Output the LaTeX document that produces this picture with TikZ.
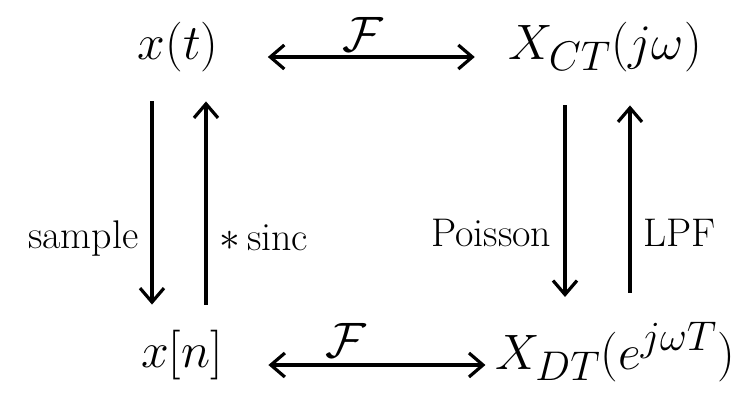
\documentclass[tikz,border=0pt]{standalone}
\usepackage{amsmath,amssymb}
\usetikzlibrary{arrows.meta,positioning}

\begin{document}
\begin{tikzpicture}[x=0.5pt,y=-0.5pt,
  line width=1.6pt,
  >={Straight Barb[length=7pt,width=12pt]},
  sig/.style={inner sep=2pt,font=\fontsize{28}{32}\selectfont},
  lbl/.style={inner sep=6pt,font=\fontsize{20}{24}\selectfont},
  op/.style={inner sep=1pt,font=\fontsize{26}{30}\selectfont}]
  \useasboundingbox (0,0) rectangle (748,396);
  % signals and spectra
  \node[sig] (xt)  at (178,47)  {$x(t)$};
  \node[sig] (Xct) at (605,47)  {$X_{CT}(j\omega)$};
  \node[sig] (xn)  at (182,355) {$x[n]$};
  \node[sig] (Xdt) at (615,352) {$X_{DT}(e^{j\omega T})$};

  % fourier pairs
  \draw[<->,shorten <=22pt,shorten >=14pt] ([yshift=-5pt]xt.east) -- node[op,above=1pt]{$\mathcal{F}$} ([yshift=-5pt]xt.east -| Xct.west);
  \draw[<->,shorten <=20pt,shorten >=2pt] ([yshift=-5pt]xn.east) -- node[op,above=2pt,pos=0.45]{$\mathcal{F}$} ([yshift=-5pt]xn.east -| Xdt.west);

  % time domain
  \draw[->,shorten <=12pt,shorten >=10pt] ([xshift=-13pt]xt.south) -- node[lbl,left,pos=0.65]{sample} ([xshift=-13pt]xt.south |- xn.north);
  \draw[<-,shorten <=12pt,shorten >=10pt] ([xshift=14pt]xt.south) -- node[lbl,right,pos=0.65]{$*$\,sinc} ([xshift=14pt]xt.south |- xn.north);

  % frequency domain
  \draw[->,shorten <=14pt,shorten >=10pt] ([xshift=-20pt]Xct.south) -- node[lbl,left,pos=0.65]{Poisson} ([xshift=-20pt]Xct.south |- Xdt.north);
  \draw[<-,shorten <=14pt,shorten >=12pt] ([xshift=12.5pt]Xct.south) -- node[lbl,right,pos=0.65]{LPF} ([xshift=12.5pt]Xct.south |- Xdt.north);
\end{tikzpicture}
\end{document}
